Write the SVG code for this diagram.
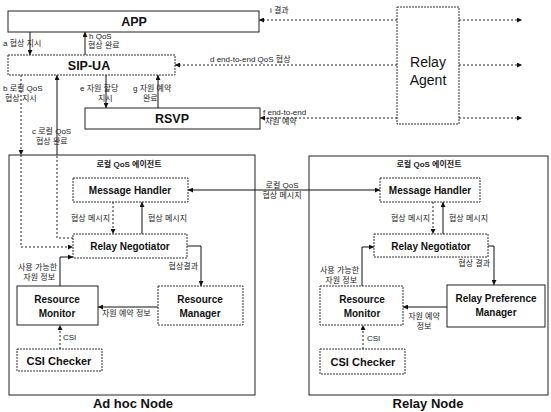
<svg xmlns="http://www.w3.org/2000/svg" width="551" height="412" viewBox="0 0 551 412">
<style>
  .bg{fill:#fff}
  .box{fill:#fff;stroke:#222;stroke-width:1}
  .dbox{fill:#fff;stroke:#333;stroke-width:1;stroke-dasharray:2,1}
  .frame{fill:none;stroke:#222;stroke-width:1}
  .ln{fill:none;stroke:#111;stroke-width:1}
  .dl{fill:none;stroke:#222;stroke-width:1;stroke-dasharray:2,2}
  .big{font-family:"Liberation Sans",Arial,sans-serif;font-weight:bold;font-size:12.5px;fill:#111;text-anchor:middle}
  .agent{font-family:"Liberation Sans",Arial,sans-serif;font-size:14px;fill:#111;text-anchor:middle}
  .nd{font-family:"Liberation Sans",Arial,sans-serif;font-weight:bold;font-size:10px;fill:#111;text-anchor:middle}
  .ttl{font-family:"Liberation Sans",Arial,sans-serif;font-weight:bold;font-size:13px;fill:#111;text-anchor:middle}
  .kr{font-family:"Liberation Sans","Noto Sans CJK KR",sans-serif;font-size:8px;fill:#222}
  .krb{font-family:"Liberation Sans","Noto Sans CJK KR",sans-serif;font-size:8px;font-weight:bold;fill:#222;text-anchor:middle}
  .m{text-anchor:middle}
  .e{text-anchor:end}
</style>
<defs>
  <marker id="ah" viewBox="0 0 6 6" refX="6" refY="3" markerWidth="5" markerHeight="5" markerUnits="userSpaceOnUse" orient="auto">
    <path d="M0,0 L6,3 L0,6 z" fill="#111"/>
  </marker>
  <marker id="as" viewBox="0 0 6 6" refX="0" refY="3" markerWidth="5" markerHeight="5" markerUnits="userSpaceOnUse" orient="auto">
    <path d="M6,0 L0,3 L6,6 z" fill="#111"/>
  </marker>
</defs>
<rect class="bg" x="0" y="0" width="551" height="412"/>

<g id="adhoc-node">
  <rect class="frame" x="9" y="155" width="246" height="240"/>
  <text class="krb" x="129" y="167">로컬 QoS 에이전트</text>
  <text class="ttl" x="133" y="408">Ad hoc Node</text>
</g>
<g id="relay-node">
  <rect class="frame" x="309" y="156" width="239" height="239"/>
  <text class="krb" x="429" y="167">로컬 QoS 에이전트</text>
  <text class="ttl" x="428" y="408">Relay Node</text>
</g>

<g id="app"><rect class="box" x="8" y="11" width="251" height="21"/><text class="big" x="134" y="26">APP</text></g>
<g id="sip-ua"><rect class="dbox" x="8" y="55" width="167" height="20"/><text class="big" x="89" y="70">SIP-UA</text></g>
<g id="rsvp"><rect class="box" x="85" y="108" width="175" height="21"/><text class="big" x="172" y="123">RSVP</text></g>
<g id="relay-agent"><rect class="dbox" x="397" y="7" width="62" height="117"/><text class="agent" x="428" y="67">Relay</text><text class="agent" x="428" y="85">Agent</text></g>

<g id="l-message-handler"><rect class="dbox" x="73" y="178" width="115" height="24"/><text class="nd" x="130" y="194">Message Handler</text></g>
<g id="l-relay-negotiator"><rect class="dbox" x="73" y="234" width="114" height="24"/><text class="nd" x="130" y="250">Relay Negotiator</text></g>
<g id="l-resource-monitor"><rect class="box" x="17" y="286" width="81" height="39"/><text class="nd" x="57" y="303">Resource</text><text class="nd" x="57" y="317">Monitor</text></g>
<g id="l-resource-manager"><rect class="dbox" x="158" y="286" width="85" height="39"/><text class="nd" x="200" y="303">Resource</text><text class="nd" x="200" y="317">Manager</text></g>
<g id="l-csi-checker"><rect class="dbox" x="17" y="349" width="85" height="22"/><text class="nd" x="59" y="365" style="font-size:11px">CSI Checker</text></g>

<g id="r-message-handler"><rect class="dbox" x="380" y="178" width="100" height="24"/><text class="nd" x="430" y="194">Message Handler</text></g>
<g id="r-relay-negotiator"><rect class="dbox" x="374" y="234" width="114" height="23"/><text class="nd" x="431" y="250">Relay Negotiator</text></g>
<g id="r-resource-monitor"><rect class="dbox" x="320" y="286" width="83" height="39"/><text class="nd" x="362" y="303">Resource</text><text class="nd" x="362" y="317">Monitor</text></g>
<g id="r-relay-preference-manager"><rect class="box" x="447" y="285" width="98" height="42"/><text class="nd" x="496" y="302">Relay Preference</text><text class="nd" x="496" y="316">Manager</text></g>
<g id="r-csi-checker"><rect class="dbox" x="320" y="349" width="85" height="25"/><text class="nd" x="363" y="366" style="font-size:11px">CSI Checker</text></g>

<g id="connectors">
  <line class="ln" x1="30" y1="32" x2="30" y2="55" marker-end="url(#ah)"/>
  <line class="ln" x1="85" y1="55" x2="85" y2="32" marker-end="url(#ah)"/>
  <line class="ln" x1="106" y1="75" x2="106" y2="108" marker-end="url(#ah)"/>
  <line class="ln" x1="158" y1="108" x2="158" y2="75" marker-end="url(#ah)"/>
  <line class="dl" x1="21" y1="75" x2="21" y2="155" marker-end="url(#ah)"/>
  <path class="dl" d="M21,155 V247 H73" marker-end="url(#ah)"/>
  <path class="dl" d="M73,238 H57 V155"/>
  <line class="ln" x1="57" y1="155" x2="57" y2="75" marker-end="url(#ah)"/>

  <line class="dl" x1="397" y1="20" x2="259" y2="20" marker-end="url(#ah)"/>
  <line class="dl" x1="397" y1="65" x2="175" y2="65" marker-end="url(#ah)"/>
  <line class="dl" x1="397" y1="118" x2="260" y2="118" marker-end="url(#ah)"/>
  <line class="dl" x1="459" y1="20" x2="522" y2="20" marker-end="url(#ah)"/>
  <line class="dl" x1="459" y1="65" x2="522" y2="65" marker-end="url(#ah)"/>
  <line class="dl" x1="459" y1="118" x2="522" y2="118" marker-end="url(#ah)"/>

  <line class="ln" x1="188" y1="190" x2="380" y2="190" marker-start="url(#as)" marker-end="url(#ah)"/>
  <line class="dl" x1="113" y1="202" x2="113" y2="234" marker-end="url(#ah)"/>
  <line class="ln" x1="142" y1="234" x2="142" y2="202" marker-end="url(#ah)"/>
  <line class="dl" x1="433" y1="202" x2="433" y2="234" marker-end="url(#ah)"/>
  <line class="ln" x1="443" y1="234" x2="443" y2="202" marker-end="url(#ah)"/>
  <path class="ln" d="M187,246 H201 V286" marker-end="url(#ah)"/>
  <path class="ln" d="M488,246 H494 V285" marker-end="url(#ah)"/>
  <path class="ln" d="M60,286 V257 H73" marker-end="url(#ah)"/>
  <path class="ln" d="M362,286 V247 H374" marker-end="url(#ah)"/>
  <line class="ln" x1="158" y1="307" x2="98" y2="307" marker-end="url(#ah)"/>
  <line class="ln" x1="447" y1="307" x2="403" y2="307" marker-end="url(#ah)"/>
  <line class="dl" x1="60" y1="349" x2="60" y2="325" marker-end="url(#ah)"/>
  <line class="dl" x1="363" y1="349" x2="363" y2="325" marker-end="url(#ah)"/>
</g>

<g id="labels">
  <text class="kr" x="270" y="13">i 결과</text>
  <text class="kr" x="210" y="62">d end-to-end QoS 협상</text>
  <text class="kr" x="263" y="115">f end-to-end</text>
  <text class="kr" x="265" y="124">자원 예약</text>
  <text class="kr" x="3" y="46">a 협상 지시</text>
  <text class="kr" x="89" y="39">h QoS</text>
  <text class="kr" x="88" y="48">협상 완료</text>
  <text class="kr" x="3" y="91">b 로컬 QoS</text>
  <text class="kr" x="5" y="101">협상 지시</text>
  <text class="kr" x="32" y="134">c 로컬 QoS</text>
  <text class="kr" x="36" y="144">협상 완료</text>
  <text class="kr" x="80" y="91">e 자원 할당</text>
  <text class="kr" x="98" y="101">지시</text>
  <text class="kr" x="133" y="91">g 자원 예약</text>
  <text class="kr" x="143" y="101">완료</text>
  <text class="kr m" x="282" y="188">로컬 QoS</text>
  <text class="kr m" x="282" y="198">협상 메시지</text>
  <text class="kr e" x="110" y="221">협상 메시지</text>
  <text class="kr" x="148" y="221">협상 메시지</text>
  <text class="kr e" x="430" y="221">협상 메시지</text>
  <text class="kr" x="449" y="221">협상 메시지</text>
  <text class="kr e" x="198" y="269">협상결과</text>
  <text class="kr e" x="490" y="266">협상 결과</text>
  <text class="kr e" x="57" y="270">사용 가능한</text>
  <text class="kr e" x="55" y="280">자원 정보</text>
  <text class="kr e" x="359" y="273">사용 가능한</text>
  <text class="kr e" x="357" y="283">자원 정보</text>
  <text class="kr" x="102" y="316">자원 예약 정보</text>
  <text class="kr m" x="424" y="319">자원 예약</text>
  <text class="kr m" x="424" y="329">정보</text>
  <text class="kr" x="63" y="340">CSI</text>
  <text class="kr" x="367" y="341">CSI</text>
</g>
</svg>
